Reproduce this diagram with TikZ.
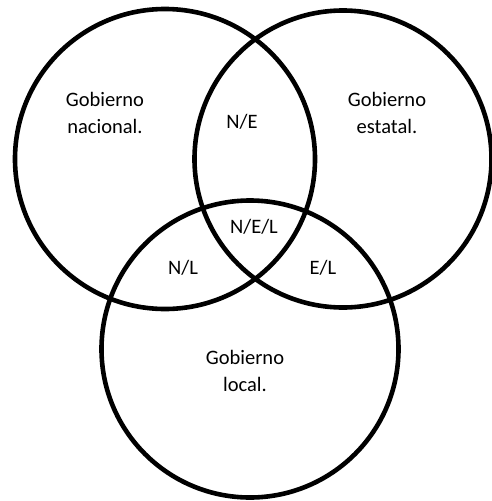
\documentclass[tikz,border=0pt]{standalone}
\usepackage{fontspec}
\setmainfont{Carlito}
\usepackage{tikz}
\usetikzlibrary{calc}
\def\drawset{\draw[line width=4.6pt, color=black]}
\def\setlabel{\node[align=center, font=\fontsize{20.5}{27}\selectfont]}

\begin{document}
\begin{tikzpicture}[x=1pt, y=-1pt]
\useasboundingbox (0,0) rectangle (492,501);

% centres of the three sets
\coordinate (nac) at (165,159);
\coordinate (est) at (343,159);
\coordinate (loc) at (250,349);

\drawset (nac) circle (150);
\drawset (est) circle (148.5);
\drawset (loc) circle (148.5);

% region labels
\setlabel (nac_label) at ($ (nac) + (-60,-46) $) {Gobierno\\nacional.};
\setlabel (est_label) at ($ (est) + (44,-46) $) {Gobierno\\estatal.};
\setlabel (loc_label) at ($ (loc) + (-5,22) $) {Gobierno\\local.};
\setlabel (ne) at (242,122) {N/E};
\setlabel (nel) at (254,227) {N/E/L};
\setlabel (nl) at (183,268) {N/L};
\setlabel (el) at (323,268) {E/L};
\end{tikzpicture}
\end{document}
